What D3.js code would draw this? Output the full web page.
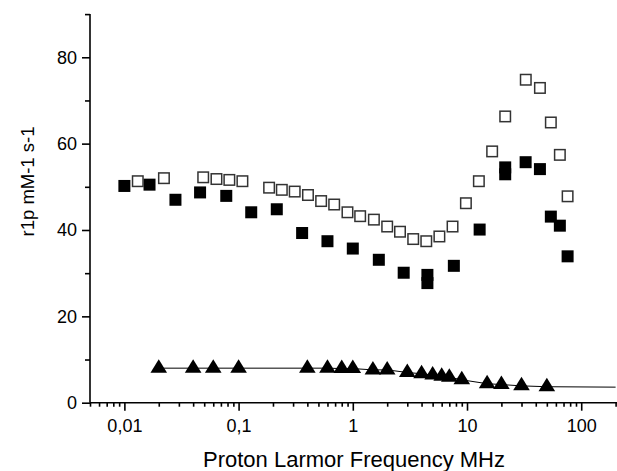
<!DOCTYPE html>
<html>
<head>
<meta charset="utf-8">
<script src="https://cdn.jsdelivr.net/npm/d3@7"></script>
<style>
  html, body { margin: 0; padding: 0; background: #fff; }
  svg { display: block; }
  text { font-family: "Liberation Sans", Arial, sans-serif; fill: #000; }
</style>
</head>
<body>
<svg id="chart" width="617" height="471"></svg>
<script>
// ---- Data ----
const openFreq = [0.0131, 0.0222, 0.049, 0.064, 0.083, 0.108, 0.185, 0.239, 0.31, 0.405, 0.528, 0.687, 0.898, 1.16, 1.53, 2.0, 2.59, 3.38, 4.40, 5.73, 7.47, 9.78, 12.7, 16.6, 21.6, 32.7, 43.5, 54.2, 65.0, 76.0];
const openR1   = [51.3, 52.0, 52.2, 51.8, 51.6, 51.3, 49.8, 49.3, 48.9, 48.1, 46.7, 45.9, 44.1, 43.2, 42.4, 40.8, 39.6, 37.9, 37.4, 38.5, 40.8, 46.2, 51.3, 58.2, 66.3, 74.8, 72.9, 64.9, 57.4, 47.8];

const filledFreq = [0.01, 0.0166, 0.028, 0.046, 0.078, 0.129, 0.216, 0.36, 0.60, 1.0, 1.69, 2.79, 4.5, 4.5, 7.67, 12.9, 21.6, 21.6, 32.6, 43.5, 54.2, 65.0, 76.0];
const filledR1   = [50.2, 50.5, 47.0, 48.7, 47.9, 44.1, 44.8, 39.3, 37.4, 35.7, 33.1, 30.1, 29.6, 27.7, 31.7, 40.1, 54.5, 52.9, 55.7, 54.1, 43.1, 41.0, 33.9];

const triFreq = [0.02, 0.04, 0.06, 0.1, 0.4, 0.6, 0.8, 1.0, 1.5, 2.0, 3.0, 4.0, 5.0, 6.0, 7.0, 9.0, 15, 20, 30, 50];
const triR1   = [8.0, 8.0, 8.0, 8.0, 8.0, 8.0, 7.9, 7.9, 7.6, 7.6, 7.0, 6.7, 6.4, 6.1, 5.9, 5.3, 4.4, 4.2, 3.9, 3.7];

// fitted line through the triangles, continuing to the axis end
const fitFreq = triFreq.concat([200]);
const fitR1   = triR1.concat([3.6]);

const xMajorTicks = [0.01, 0.1, 1, 10, 100];
const xTickLabels = ["0,01", "0,1", "1", "10", "100"];
const yMajorTicks = [0, 20, 40, 60, 80];
const yMinorTicks = [10, 30, 50, 70, 90];

const xTitle = "Proton Larmor Frequency MHz";
const yTitle = "r1p mM-1 s-1";

// ---- Layout ----
const svg = d3.select("#chart");
const plotLeft = 90, plotRight = 615.6, plotTop = 14.1, plotBottom = 402.7;

const x = d3.scaleLog().domain([0.005, 200]).range([plotLeft, plotRight]);
const y = d3.scaleLinear().domain([0, 90]).range([plotBottom, plotTop]);

// minor log ticks
const xMinorTicks = [];
for (let e = -3; e <= 2; e++) {
  for (let m = 2; m <= 9; m++) {
    const v = m * Math.pow(10, e);
    if (v >= 0.005 && v <= 200) xMinorTicks.push(v);
  }
}

// ---- Axes ----
const gx = svg.append("g").attr("transform", `translate(0,${plotBottom})`);
gx.call(d3.axisBottom(x).tickValues(xMinorTicks).tickSize(4).tickSizeOuter(0).tickFormat(""));
gx.call(g => g.select(".domain").remove());
const gxMaj = svg.append("g").attr("transform", `translate(0,${plotBottom})`);
gxMaj.call(d3.axisBottom(x).tickValues(xMajorTicks).tickSize(8).tickSizeOuter(0)
  .tickPadding(8).tickFormat((d, i) => xTickLabels[i]));
gxMaj.selectAll(".tick text").attr("font-size", 18).attr("dy", "0.72em")
  .attr("font-family", "Liberation Sans, Arial, sans-serif");
gxMaj.select(".domain").attr("d", `M${plotLeft},0H617`);

const gy = svg.append("g").attr("transform", `translate(${plotLeft},0)`);
gy.call(d3.axisLeft(y).tickValues(yMinorTicks).tickSize(5).tickSizeOuter(0).tickFormat(""));
gy.call(g => g.select(".domain").remove());
const gyMaj = svg.append("g").attr("transform", `translate(${plotLeft},0)`);
gyMaj.call(d3.axisLeft(y).tickValues(yMajorTicks).tickSize(8).tickSizeOuter(0).tickPadding(5));
gyMaj.selectAll(".tick text").attr("font-size", 18)
  .attr("font-family", "Liberation Sans, Arial, sans-serif");
gyMaj.select(".domain").attr("d", `M0,${plotTop}V${plotBottom}`);

svg.selectAll(".domain, .tick line").attr("stroke", "#000").attr("stroke-width", 1.6);

// ---- Titles ----
svg.append("text").attr("x", 354).attr("y", 467).attr("text-anchor", "middle")
  .attr("font-size", 22).text(xTitle);
svg.append("text").attr("transform", `translate(34,181.5) rotate(-90)`)
  .attr("text-anchor", "middle").attr("font-size", 18.5).text(yTitle);

// ---- Marks ----
const fit = fitFreq.map((f, i) => [f, fitR1[i]]);
svg.append("path").datum(fit)
  .attr("fill", "none").attr("stroke", "#000").attr("stroke-width", 1)
  .attr("d", d3.line().x(d => x(d[0])).y(d => y(d[1])));

const tri = triFreq.map((f, i) => [f, triR1[i]]);
svg.append("g").selectAll("path").data(tri).join("path")
  .attr("transform", d => `translate(${x(d[0])},${y(d[1])})`)
  .attr("d", "M0,-9L8.3,4.5L-8.3,4.5Z")
  .attr("fill", "#000");

const filled = filledFreq.map((f, i) => [f, filledR1[i]]);
svg.append("g").selectAll("rect").data(filled).join("rect")
  .attr("x", d => x(d[0]) - 6).attr("y", d => y(d[1]) - 6)
  .attr("width", 12).attr("height", 12).attr("fill", "#000");

const open = openFreq.map((f, i) => [f, openR1[i]]);
svg.append("g").selectAll("rect").data(open).join("rect")
  .attr("x", d => x(d[0]) - 5.25).attr("y", d => y(d[1]) - 5.25)
  .attr("width", 10.5).attr("height", 10.5)
  .attr("fill", "#fff").attr("stroke", "#333").attr("stroke-width", 1.5);
</script>
</body>
</html>
